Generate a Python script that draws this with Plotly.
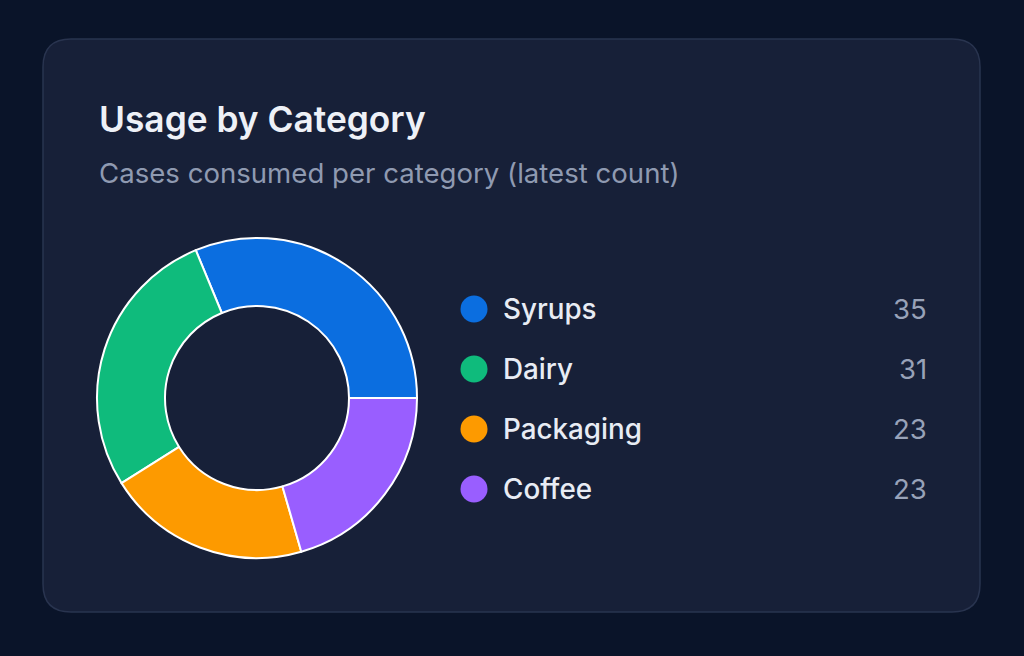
import plotly.graph_objects as go

W, H = 1024, 656

categories = ["Syrups", "Dairy", "Packaging", "Coffee"]
cases = [35, 31, 23, 23]
colors = ["#0b6ee0", "#0fbb7c", "#fd9a00", "#995eff"]

page_bg = "#0a1429"
card_bg = "#172038"
card_line = "#29344f"


def px(x):
    return x / W


def py_(y):
    return 1 - y / H


def rounded_rect(x0, y0, x1, y1, r):
    # rounded rectangle path in paper coords from pixel values
    pts = [
        f"M {px(x0 + r)},{py_(y0)}",
        f"L {px(x1 - r)},{py_(y0)}",
        f"Q {px(x1)},{py_(y0)} {px(x1)},{py_(y0 + r)}",
        f"L {px(x1)},{py_(y1 - r)}",
        f"Q {px(x1)},{py_(y1)} {px(x1 - r)},{py_(y1)}",
        f"L {px(x0 + r)},{py_(y1)}",
        f"Q {px(x0)},{py_(y1)} {px(x0)},{py_(y1 - r)}",
        f"L {px(x0)},{py_(y0 + r)}",
        f"Q {px(x0)},{py_(y0)} {px(x0 + r)},{py_(y0)}",
        "Z",
    ]
    return " ".join(pts)


# first slice runs counterclockwise and ends at 3 o'clock
first_angle = 360 * cases[0] / sum(cases)

fig = go.Figure()

# donut
fig.add_trace(go.Pie(
    labels=categories,
    values=cases,
    hole=0.575,
    sort=False,
    direction="counterclockwise",
    rotation=90 - first_angle,
    marker=dict(colors=colors, line=dict(color="#ffffff", width=2)),
    textinfo="none",
    hoverinfo="label+value",
    showlegend=False,
    domain=dict(x=[px(97), px(417)], y=[py_(558), py_(238)]),
))

# legend dots
fig.add_trace(go.Scatter(
    x=[474] * len(categories),
    y=categories,
    mode="markers",
    marker=dict(size=27, color=colors, line=dict(width=0)),
    hoverinfo="skip",
    showlegend=False,
))

annotations = []
for cat, val in zip(categories, cases):
    annotations.append(dict(
        x=501, y=cat, xref="x", yref="y", text=cat, showarrow=False,
        xanchor="left", yanchor="middle",
        font=dict(family="Inter", size=27.8, color="#e8ecf4", weight=500),
    ))
    annotations.append(dict(
        x=929, y=cat, xref="x", yref="y", text=str(val), showarrow=False,
        xanchor="right", yanchor="middle",
        font=dict(family="Inter", size=27.5, color="#98a2b8"),
    ))

annotations.append(dict(
    x=px(97), y=py_(119), xref="paper", yref="paper",
    text="Usage by Category", showarrow=False,
    xanchor="left", yanchor="middle",
    font=dict(family="Inter", size=35.3, color="#eef1f7", weight=600),
))
annotations.append(dict(
    x=px(97), y=py_(173), xref="paper", yref="paper",
    text="Cases consumed per category (latest count)", showarrow=False,
    xanchor="left", yanchor="middle",
    font=dict(family="Inter", size=27.6, color="#8f9ab1"),
))

fig.update_layout(
    width=W, height=H,
    margin=dict(l=0, r=0, t=0, b=0),
    paper_bgcolor=page_bg,
    plot_bgcolor="rgba(0,0,0,0)",
    xaxis=dict(range=[0, W], domain=[0, 1], visible=False, fixedrange=True),
    yaxis=dict(
        type="category", categoryorder="array", categoryarray=categories,
        range=[3.5, -0.5], domain=[py_(519), py_(279)],
        visible=False, fixedrange=True,
    ),
    shapes=[dict(
        type="path", xref="paper", yref="paper", layer="below",
        path=rounded_rect(43, 39, 980, 612, 28),
        fillcolor=card_bg, line=dict(color=card_line, width=1.5),
    )],
    annotations=annotations,
)

fig.write_html(
    "out.html",
    config=dict(displayModeBar=False),
    post_script="document.body.style.margin='0';document.body.style.background='%s';" % page_bg,
)
